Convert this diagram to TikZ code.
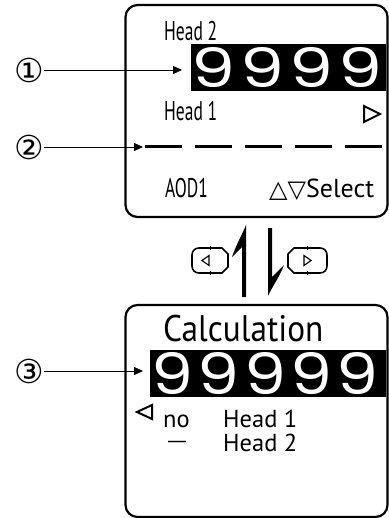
\documentclass[tikz,border=0pt]{standalone}
\usepackage{fontspec}
\setmainfont{PT Sans}
\newfontfamily\symfont{DejaVu Sans}
\newfontfamily\digitfont{Poppins}
\usetikzlibrary{arrows.meta}
\begin{document}
\begin{tikzpicture}[x=1pt,y=-1pt,
  panel/.style={draw, line width=2.2pt, rounded corners=12pt, inner sep=0pt, minimum width=262pt, minimum height=212pt},
  bar/.style={fill=black, inner sep=0pt, anchor=north west},
  digit/.style={text=white, inner sep=0pt},
  callout/.style={-{Triangle[length=9pt,width=8pt]}, line width=0.8pt},
  num/.style={inner sep=0pt, font=\symfont\fontsize{33}{33}\selectfont},
  lbl/.style={inner sep=0pt, anchor=base west, text depth=0pt},
  cond/.style={lbl, font=\fontsize{27}{27}\selectfont, xscale=0.65},
  reg/.style={lbl, font=\fontsize{24.5}{24.5}\selectfont},
  tri/.style={line width=2pt, line join=miter},
  btn/.style={line width=1.6pt},
  harpoon/.style={fill=black},
]
\useasboundingbox (0,0) rectangle (388,518);

% ---------- top panel ----------
\node[panel] (top) at (256.5,111) {};
\node[bar, minimum width=195pt, minimum height=47pt] (bar1) at (191,44) {};
\foreach \i/\cx in {1/214,2/263,3/312,4/361}
  \node[digit] (d\i) at (\cx,68) {\resizebox{44pt}{40pt}{\digitfont 9}};
\node[cond] (h2) at (164,41) {Head 2};
\node[cond] (h1) at (164,121) {Head 1};
\node[cond] (aod) at (165,198) {AOD1};
\node[reg, font=\fontsize{26}{26}\selectfont] (sel) at (269,198) {{\symfont\fontsize{24}{24}\selectfont △▽}Select};
\draw[tri] (364,106) -- (380,114) -- (364,122) -- cycle;
\coordinate (dash0) at (145,147);
\coordinate (dash1) at (388,147);
\draw[line width=3pt, dash pattern=on 37pt off 13pt] (dash0) -- (dash1);

% ---------- callouts ----------
\node[num] (n1) at (29,70) {①};
\node[num] (n2) at (29,147) {②};
\node[num] (n3) at (29,371) {③};
\draw[callout, shorten >=9pt] (n1.east) -- (n1.east -| bar1.west);
\draw[callout, shorten >=2pt] (n2.east) -- (dash0);

% ---------- switching arrows and keys ----------
\draw[btn] (222,248) -- (228,254) -- (228,267) -- (222,273) -- (199,273)
  .. controls (195,273) and (192,270) .. (192,266) -- (192,255)
  .. controls (192,251) and (195,248) .. (199,248) -- cycle;
\draw[line width=0.6pt] (210,246) -- (210,250) (210,271) -- (210,275);
\draw[line width=1.1pt] (202,260.5) -- (209,255.5) -- (209,265.5) -- cycle;
\draw[btn] (294,248) -- (288,254) -- (288,267) -- (294,273) -- (320,273)
  .. controls (324,273) and (327,270) .. (327,266) -- (327,255)
  .. controls (327,251) and (324,248) .. (320,248) -- cycle;
\draw[line width=0.6pt] (307,246) -- (307,250) (307,271) -- (307,275);
\draw[line width=1.1pt] (304,255.5) -- (311,260.5) -- (304,265.5) -- cycle;
\fill[harpoon] (246,225) -- (246,297) -- (242,297) -- (242,247) -- (232,257)
  .. controls (236,245) and (242,235) .. cycle;
\fill[harpoon] (268,228) -- (272,228) -- (272,277) -- (284,265)
  .. controls (280,276) and (272,287) .. (268,296) -- cycle;

% ---------- bottom panel ----------
\node[panel] (bot) at (256.5,411) {};
\node[lbl, font=\fontsize{37}{37}\selectfont, xscale=0.9] (calc) at (163,341) {Calculation};
\node[bar, minimum width=236pt, minimum height=47pt] (bar2) at (150,350) {};
\foreach \i/\cx in {1/173,2/219,3/266,4/312,5/358}
  \node[digit] (e\i) at (\cx,374) {\resizebox{42pt}{42pt}{\digitfont 9}};
\draw[callout, shorten >=7pt] (n3.east) -- (n3.east -| bar2.west);
\draw[tri] (137,412) -- (152,405) -- (152,419) -- cycle;
\node[reg] (no) at (163,427) {no};
\node[reg] (hd1) at (223,427) {Head 1};
\node[lbl, font=\symfont\fontsize{20}{20}\selectfont] (dash) at (167,447) {—};
\node[reg] (hd2) at (223,451) {Head 2};
\end{tikzpicture}
\end{document}
